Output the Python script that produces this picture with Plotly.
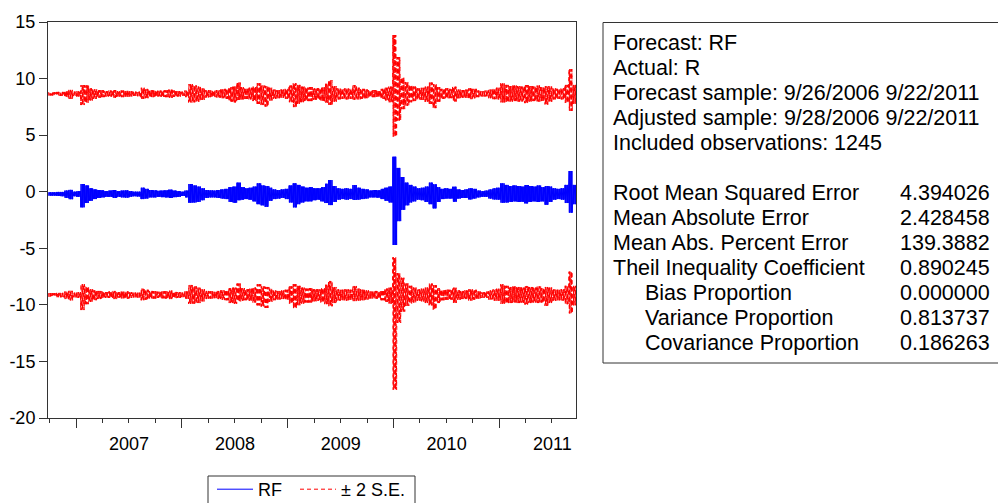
import numpy as np
import pandas as pd
import plotly.graph_objects as go

# ---------------- data ----------------
# Envelope of each series in 132 consecutive time buckets (about 4 px / ~10 obs each):
# highest and lowest value reached inside the bucket.
rf_hi = [-0.05, -0.05, -0.02, -0.02, 0.10, 0.16, 0.00, 0.05, 0.68, 0.55,
         0.30, 0.20, 0.15, 0.12, 0.05, 0.10, 0.15, 0.05, 0.10, 0.12,
         0.05, 0.00, 0.00, 0.35, 0.25, 0.15, 0.12, 0.08, 0.10, 0.12,
         0.18, 0.10, 0.05, 0.00, 0.10, 0.68, 0.55, 0.45, 0.30, 0.15,
         0.12, 0.10, 0.15, 0.20, 0.25, 0.40, 0.45, 0.80, 0.40, 0.30,
         0.35, 0.45, 0.74, 0.55, 0.50, 0.35, 0.20, 0.15, 0.20, 0.25,
         0.55, 0.74, 0.60, 0.45, 0.35, 0.40, 0.30, 0.30, 0.40, 0.70,
         1.03, 0.50, 0.30, 0.25, 0.30, 0.25, 0.59, 0.35, 0.25, 0.20,
         0.10, 0.15, 0.12, 0.25, 0.35, 0.45, 3.09, 2.10, 1.30, 0.80,
         0.60, 0.45, 0.30, 0.35, 0.45, 0.80, 0.65, 0.40, 0.25, 0.30,
         0.25, 0.44, 0.20, 0.15, 0.20, 0.30, 0.25, 0.10, 0.05, 0.10,
         0.20, 0.30, 0.35, 0.74, 0.60, 0.50, 0.55, 0.50, 0.45, 0.59,
         0.50, 0.45, 0.55, 0.40, 0.50, 0.45, 0.30, 0.25, 0.30, 0.60,
         1.83, 0.60]
rf_lo = [-0.35, -0.35, -0.38, -0.40, -0.55, -0.66, -0.40, -0.45, -1.38, -1.00,
         -0.80, -0.65, -0.55, -0.50, -0.45, -0.45, -0.55, -0.45, -0.50, -0.52,
         -0.45, -0.40, -0.42, -0.65, -0.60, -0.50, -0.50, -0.45, -0.48, -0.50,
         -0.55, -0.48, -0.45, -0.38, -0.50, -0.97, -0.95, -0.90, -0.75, -0.55,
         -0.50, -0.50, -0.55, -0.60, -0.65, -0.90, -0.97, -0.75, -0.70, -0.65,
         -0.70, -0.85, -1.10, -1.20, -1.33, -0.80, -0.65, -0.60, -0.55, -0.65,
         -0.95, -1.38, -1.10, -0.95, -0.85, -0.85, -0.75, -0.70, -0.85, -1.00,
         -1.18, -0.90, -0.70, -0.65, -0.70, -0.65, -0.73, -0.70, -0.65, -0.60,
         -0.50, -0.50, -0.52, -0.65, -0.80, -0.95, -4.71, -2.60, -1.60, -1.20,
         -0.95, -0.85, -0.70, -0.75, -0.90, -1.10, -1.47, -0.90, -0.65, -0.60,
         -0.60, -0.88, -0.60, -0.55, -0.55, -0.68, -0.60, -0.50, -0.45, -0.45,
         -0.60, -0.68, -0.70, -0.97, -0.95, -0.90, -0.85, -0.90, -0.88, -1.03,
         -0.90, -0.85, -0.90, -0.85, -1.15, -0.90, -0.70, -0.65, -0.70, -1.00,
         -1.85, -1.10]
up_hi = [8.79, 8.79, 8.82, 8.82, 8.94, 9.00, 8.84, 8.89, 9.43, 9.39,
         9.14, 9.04, 8.99, 8.96, 8.89, 8.94, 8.99, 8.89, 8.94, 8.96,
         8.89, 8.84, 8.84, 9.19, 9.09, 8.99, 8.96, 8.92, 8.94, 8.96,
         9.02, 8.94, 8.89, 8.84, 8.94, 9.52, 9.39, 9.29, 9.14, 8.99,
         8.96, 8.94, 8.99, 9.04, 9.09, 9.24, 9.29, 9.64, 9.24, 9.14,
         9.19, 9.29, 9.58, 9.39, 9.34, 9.19, 9.04, 8.99, 9.04, 9.09,
         9.39, 9.58, 9.44, 9.29, 9.19, 9.24, 9.14, 9.14, 9.24, 9.54,
         9.87, 9.34, 9.14, 9.09, 9.14, 9.09, 9.43, 9.19, 9.09, 9.04,
         8.94, 8.99, 8.96, 9.09, 9.19, 9.29, 13.85, 11.90, 10.10, 9.70,
         9.44, 9.29, 9.14, 9.19, 9.29, 9.64, 9.49, 9.24, 9.09, 9.14,
         9.09, 9.28, 9.04, 8.99, 9.04, 9.14, 9.09, 8.94, 8.89, 8.94,
         9.04, 9.14, 9.19, 9.58, 9.44, 9.34, 9.39, 9.34, 9.29, 9.43,
         9.34, 9.29, 9.39, 9.24, 9.34, 9.29, 9.14, 9.09, 9.14, 9.44,
         10.82, 9.44]
up_lo = [8.51, 8.51, 8.48, 8.46, 8.31, 8.20, 8.46, 8.41, 7.66, 7.86,
         8.06, 8.21, 8.31, 8.36, 8.41, 8.41, 8.31, 8.41, 8.36, 8.34,
         8.41, 8.46, 8.44, 8.21, 8.26, 8.36, 8.36, 8.41, 8.38, 8.36,
         8.31, 8.38, 8.41, 8.48, 8.36, 7.89, 7.91, 7.96, 8.11, 8.31,
         8.36, 8.36, 8.31, 8.26, 8.21, 7.96, 7.89, 8.11, 8.16, 8.21,
         8.16, 8.01, 7.76, 7.66, 7.53, 8.06, 8.21, 8.26, 8.31, 8.21,
         7.91, 7.48, 7.76, 7.91, 8.01, 8.01, 8.11, 8.16, 8.01, 7.86,
         7.68, 7.96, 8.16, 8.21, 8.16, 8.21, 8.13, 8.16, 8.21, 8.26,
         8.36, 8.36, 8.34, 8.21, 8.06, 7.91, 4.86, 6.30, 7.30, 7.60,
         7.91, 8.01, 8.16, 8.11, 7.96, 7.76, 7.39, 7.96, 8.21, 8.26,
         8.26, 7.98, 8.26, 8.31, 8.31, 8.18, 8.26, 8.36, 8.41, 8.41,
         8.26, 8.18, 8.16, 7.89, 7.91, 7.96, 8.01, 7.96, 7.98, 7.83,
         7.96, 8.01, 7.96, 8.01, 7.71, 7.96, 8.16, 8.21, 8.16, 7.86,
         7.15, 7.76]
lo_hi = [-8.97, -8.97, -8.94, -8.94, -8.82, -8.76, -8.92, -8.87, -8.18, -8.37,
         -8.62, -8.72, -8.77, -8.80, -8.87, -8.82, -8.77, -8.87, -8.82, -8.80,
         -8.87, -8.92, -8.92, -8.57, -8.67, -8.77, -8.80, -8.84, -8.82, -8.80,
         -8.74, -8.82, -8.87, -8.92, -8.82, -8.24, -8.37, -8.47, -8.62, -8.77,
         -8.80, -8.82, -8.77, -8.72, -8.67, -8.52, -8.47, -8.12, -8.52, -8.62,
         -8.57, -8.47, -8.18, -8.37, -8.42, -8.57, -8.72, -8.77, -8.72, -8.67,
         -8.37, -8.18, -8.32, -8.47, -8.57, -8.52, -8.62, -8.62, -8.52, -8.22,
         -7.89, -8.42, -8.62, -8.67, -8.62, -8.67, -8.33, -8.57, -8.67, -8.72,
         -8.82, -8.77, -8.80, -8.67, -8.57, -8.47, -5.80, -7.20, -7.60, -8.10,
         -8.32, -8.47, -8.62, -8.57, -8.47, -8.12, -8.27, -8.52, -8.67, -8.62,
         -8.67, -8.48, -8.72, -8.77, -8.72, -8.62, -8.67, -8.82, -8.87, -8.82,
         -8.72, -8.62, -8.57, -8.18, -8.32, -8.42, -8.37, -8.42, -8.47, -8.33,
         -8.42, -8.47, -8.37, -8.52, -8.42, -8.47, -8.62, -8.67, -8.62, -8.32,
         -7.07, -8.32]
lo_lo = [-9.29, -9.29, -9.32, -9.34, -9.49, -9.60, -9.34, -9.39, -10.46, -9.94,
         -9.74, -9.59, -9.49, -9.44, -9.39, -9.39, -9.49, -9.39, -9.44, -9.46,
         -9.39, -9.34, -9.36, -9.59, -9.54, -9.44, -9.44, -9.39, -9.42, -9.44,
         -9.49, -9.42, -9.39, -9.32, -9.44, -9.91, -9.89, -9.84, -9.69, -9.49,
         -9.44, -9.44, -9.49, -9.54, -9.59, -9.84, -9.91, -9.69, -9.64, -9.59,
         -9.64, -9.79, -10.04, -10.14, -10.27, -9.74, -9.59, -9.54, -9.49, -9.59,
         -9.89, -10.32, -10.04, -9.89, -9.79, -9.79, -9.69, -9.64, -9.79, -9.94,
         -10.12, -9.84, -9.64, -9.59, -9.64, -9.59, -9.67, -9.64, -9.59, -9.54,
         -9.44, -9.44, -9.46, -9.59, -9.74, -9.89, -17.50, -11.60, -10.60, -10.10,
         -9.89, -9.79, -9.64, -9.69, -9.84, -10.04, -10.41, -9.84, -9.59, -9.54,
         -9.54, -9.82, -9.54, -9.49, -9.49, -9.62, -9.54, -9.44, -9.39, -9.39,
         -9.54, -9.62, -9.64, -9.91, -9.89, -9.84, -9.79, -9.84, -9.82, -9.97,
         -9.84, -9.79, -9.84, -9.79, -10.09, -9.84, -9.64, -9.59, -9.64, -9.94,
         -10.75, -10.04]

sample_start = "2006-09-28"
sample_end = "2011-09-22"
axis_range = ["2006-09-26", "2011-09-22"]
y_ticks = [-20, -15, -10, -5, 0, 5, 10, 15]
y_ticktext = ["-20", "-15", "-10", "-5", "0", "5", "10", "15"]

header_lines = ["Forecast: RF", "Actual: R",
                "Forecast sample: 9/26/2006 9/22/2011",
                "Adjusted sample: 9/28/2006 9/22/2011",
                "Included observations: 1245"]
stat_names = ["Root Mean Squared Error", "Mean Absolute Error",
              "Mean Abs. Percent Error", "Theil Inequality Coefficient",
              "Bias Proportion", "Variance Proportion", "Covariance Proportion"]
stat_values = ["4.394026", "2.428458", "139.3882", "0.890245",
               "0.000000", "0.813737", "0.186263"]
stat_indent = [False, False, False, False, True, True, True]

# ---------------- build the dense traces ----------------
dates = pd.bdate_range(sample_start, sample_end)
n = len(dates)
nb = len(rf_hi)
bucket = (np.arange(n) * nb) // n
swing = (np.arange(n) % 2) == 0


def envelope_path(hi, lo):
    hi = np.asarray(hi)
    lo = np.asarray(lo)
    return np.where(swing, hi[bucket], lo[bucket])


FONT = "Liberation Sans, Arial, sans-serif"
RED_DASH = "4px,3px"

fig = go.Figure()
fig.add_trace(go.Scatter(x=dates, y=envelope_path(rf_hi, rf_lo), mode="lines",
                         name="RF", legend="legend",
                         line=dict(color="#0000FF", width=1, simplify=False)))
fig.add_trace(go.Scatter(x=dates, y=envelope_path(up_hi, up_lo), mode="lines",
                         name="± 2 S.E.", legend="legend2", legendgroup="se",
                         line=dict(color="#FF0000", width=1, dash=RED_DASH,
                                   simplify=False)))
fig.add_trace(go.Scatter(x=dates, y=envelope_path(lo_hi, lo_lo), mode="lines",
                         name="± 2 S.E.", legend="legend2", legendgroup="se",
                         showlegend=False,
                         line=dict(color="#FF0000", width=1, dash=RED_DASH,
                                   simplify=False)))

W, H = 998, 503
L, R, T, B = 48, 576, 22, 418


def pxx(x):
    return (x - L) / (R - L)


def pyy(y):
    return (B - y) / (B - T)


AX = "#333333"
legend_common = dict(orientation="h", xanchor="left", y=pyy(471), yanchor="top",
                     borderwidth=0, bgcolor="rgba(0,0,0,0)",
                     font=dict(family=FONT, size=18, color="black"),
                     itemwidth=36)
fig.update_layout(
    width=W, height=H,
    margin=dict(l=L, r=W - R, t=T, b=H - B, pad=0, autoexpand=False),
    paper_bgcolor="white", plot_bgcolor="white",
    font=dict(family=FONT, size=18, color="black"),
    showlegend=True,
    legend=dict(x=pxx(212), **legend_common),
    legend2=dict(x=pxx(295), **legend_common),
    xaxis=dict(type="date", range=axis_range, showline=True, linecolor=AX,
               linewidth=1, mirror=True, ticks="outside", ticklen=9,
               tickcolor=AX, dtick="M12", tick0="2007-01-01", tickformat="%Y",
               ticklabelmode="period", showgrid=False, zeroline=False,
               automargin=False,
               tickfont=dict(family=FONT, size=18, color="black"),
               minor=dict(dtick="M3", ticks="outside", ticklen=4,
                          tickcolor=AX, showgrid=False)),
    yaxis=dict(range=[-20, 15], tickvals=y_ticks, ticktext=y_ticktext,
               showline=True, linecolor=AX, linewidth=1, mirror=True,
               ticks="outside", ticklen=8, tickcolor=AX, showgrid=False,
               zeroline=False, automargin=False,
               tickfont=dict(family=FONT, size=18, color="black")),
)

# legend frame
fig.add_shape(type="rect", xref="paper", yref="paper",
              x0=pxx(208), x1=pxx(415), y0=pyy(512), y1=pyy(476),
              line=dict(color=AX, width=1), fillcolor="rgba(0,0,0,0)")
# statistics box
fig.add_shape(type="rect", xref="paper", yref="paper",
              x0=pxx(603), x1=pxx(1010), y0=pyy(363), y1=pyy(22.5),
              line=dict(color=AX, width=1), fillcolor="rgba(0,0,0,0)")

TXT = 21.5
for k, line in enumerate(header_lines):
    fig.add_annotation(xref="paper", yref="paper", x=pxx(611), y=pyy(43 + 25 * k),
                       text=line, showarrow=False, xanchor="left", yanchor="middle",
                       font=dict(family=FONT, size=TXT, color="black"))
for k, (name, val, ind) in enumerate(zip(stat_names, stat_values, stat_indent)):
    yy = pyy(193 + 25 * k)
    fig.add_annotation(xref="paper", yref="paper", x=pxx(643 if ind else 611), y=yy,
                       text=name, showarrow=False, xanchor="left", yanchor="middle",
                       font=dict(family=FONT, size=TXT, color="black"))
    fig.add_annotation(xref="paper", yref="paper", x=pxx(992), y=yy,
                       text=val, showarrow=False, xanchor="right", yanchor="middle",
                       font=dict(family=FONT, size=TXT, color="black"))

fig.write_html(
    "out.html",
    config={"displayModeBar": False},
    post_script="document.body.style.margin='0px';"
                "document.body.style.overflow='hidden';",
)
